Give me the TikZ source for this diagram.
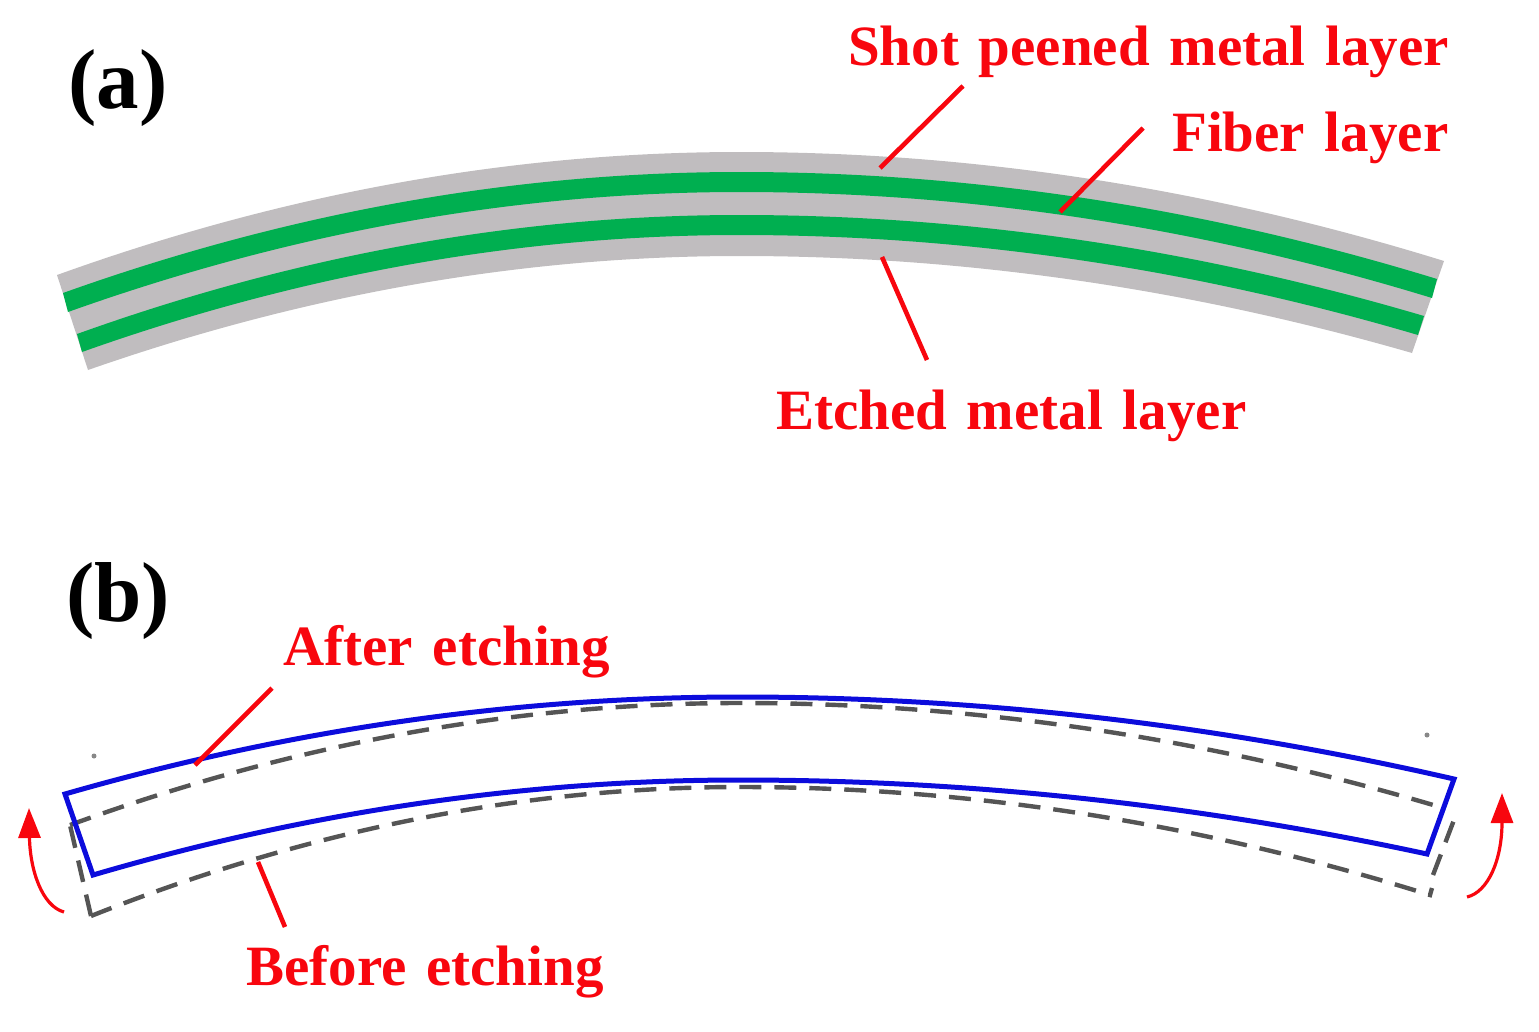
\documentclass[tikz,border=0pt]{standalone}
\usepackage{fontspec}
\setmainfont[WordSpace=1.39]{Liberation Serif}
\usetikzlibrary{arrows.meta}
\definecolor{bandgray}{HTML}{C0BDBF}
\definecolor{bandgreen}{HTML}{00AF50}
\definecolor{labred}{HTML}{F8060E}
\definecolor{outblue}{HTML}{0C0CDC}
\definecolor{dashgray}{HTML}{555555}
% parabolic arc: left end (#1,#2), apex (740,#3), right end (#4,#5)
\newcommand{\arcLR}[5]{(#1,#2) .. controls ({#1+(740-#1)/3},{#2+2/3*(#3-#2)}) and ({740-(740-#1)/3},#3) .. (740,#3) .. controls ({740+(#4-740)/3},#3) and ({#4-(#4-740)/3},{#5+2/3*(#3-#5)}) .. (#4,#5)}
% the same arc, drawn from right to left, continuing a path
\newcommand{\arcRL}[5]{.. controls ({#4-(#4-740)/3},{#5+2/3*(#3-#5)}) and ({740+(#4-740)/3},#3) .. (740,#3) .. controls ({740-(740-#1)/3},#3) and ({#1+(740-#1)/3},{#2+2/3*(#3-#2)}) .. (#1,#2)}
\tikzset{
  lab/.style={anchor=base west,inner sep=0pt,text=labred,font=\bfseries\fontsize{57}{57}\selectfont},
  panel/.style={anchor=base west,inner sep=0pt,text=black,font=\bfseries\fontsize{85}{85}\selectfont},
  leader/.style={draw=labred,line width=4.6pt},
  bluebox/.style={draw=outblue,line width=5pt,line join=miter},
  dashbox/.style={draw=dashgray,line width=4.4pt,dash pattern=on 22pt off 13pt},
  bendarrow/.style={draw=labred,line width=3.2pt,-{Triangle[length=30pt,width=22pt]}},
  speck/.style={circle,fill=dashgray!70,inner sep=0pt,minimum size=5pt}
}
\begin{document}
\begin{tikzpicture}[x=1pt,y=-1pt]
\useasboundingbox (0,0) rectangle (1539,1031);
% (a) bands
\fill[bandgray] \arcLR{57}{275}{152}{1444}{261} -- (1412,353) \arcRL{88}{370}{256}{1412}{353} -- cycle;
\fill[bandgreen] \arcLR{63}{293}{172}{1437}{279} -- (1432,298) \arcRL{68}{312}{192}{1432}{298} -- cycle;
\fill[bandgreen] \arcLR{77}{334}{215}{1424}{316} -- (1418,335) \arcRL{82}{352}{235}{1418}{335} -- cycle;
% (b) outlines
\draw[dashbox] \arcLR{70}{825}{703}{1440}{807};
\draw[dashbox] (91,916) -- (70,825);
\draw[dashbox] \arcLR{91}{916}{787}{1430}{895} -- (1432,888);
\draw[dashbox] (1433,875) -- (1457,812);
\draw[bluebox] \arcLR{65}{794}{697}{1454}{779} -- (1427,854) \arcRL{93}{875}{780}{1427}{854} -- cycle;
% specks
\node[speck] (s1) at (94,756) {};
\node[speck] (s2) at (1427,735) {};
% labels
\node[panel] (pa) at (68,108) {(a)};
\node[panel] (pb) at (66,621) {(b)};
\node[lab] (shot) at (848,65) {Shot peened metal layer};
\node[lab] (fiber) at (1172,151) {Fiber layer};
\node[lab] (etched) at (776,429) {Etched metal layer};
\node[lab] (after) at (283,665) {After etching};
\node[lab] (before) at (246,985) {Before etching};
% leaders
\coordinate (l1a) at (963,86); \coordinate (l1b) at (880,168);
\coordinate (l2a) at (1143,128); \coordinate (l2b) at (1060,212);
\coordinate (l3a) at (927,360); \coordinate (l3b) at (882,257);
\coordinate (l4a) at (272,688); \coordinate (l4b) at (195,765);
\coordinate (l5a) at (285,927); \coordinate (l5b) at (258,862);
\draw[leader] (l1a) -- (l1b);
\draw[leader] (l2a) -- (l2b);
\draw[leader] (l3a) -- (l3b);
\draw[leader] (l4a) -- (l4b);
\draw[leader] (l5a) -- (l5b);
% bend arrows
\coordinate (al0) at (64,912); \coordinate (al1) at (29,808);
\coordinate (ar0) at (1467,897); \coordinate (ar1) at (1502,793);
\draw[bendarrow] (al0) .. controls (42,906) and (30,870) .. (al1);
\draw[bendarrow] (ar0) .. controls (1488,892) and (1502,860) .. (ar1);
\end{tikzpicture}
\end{document}
